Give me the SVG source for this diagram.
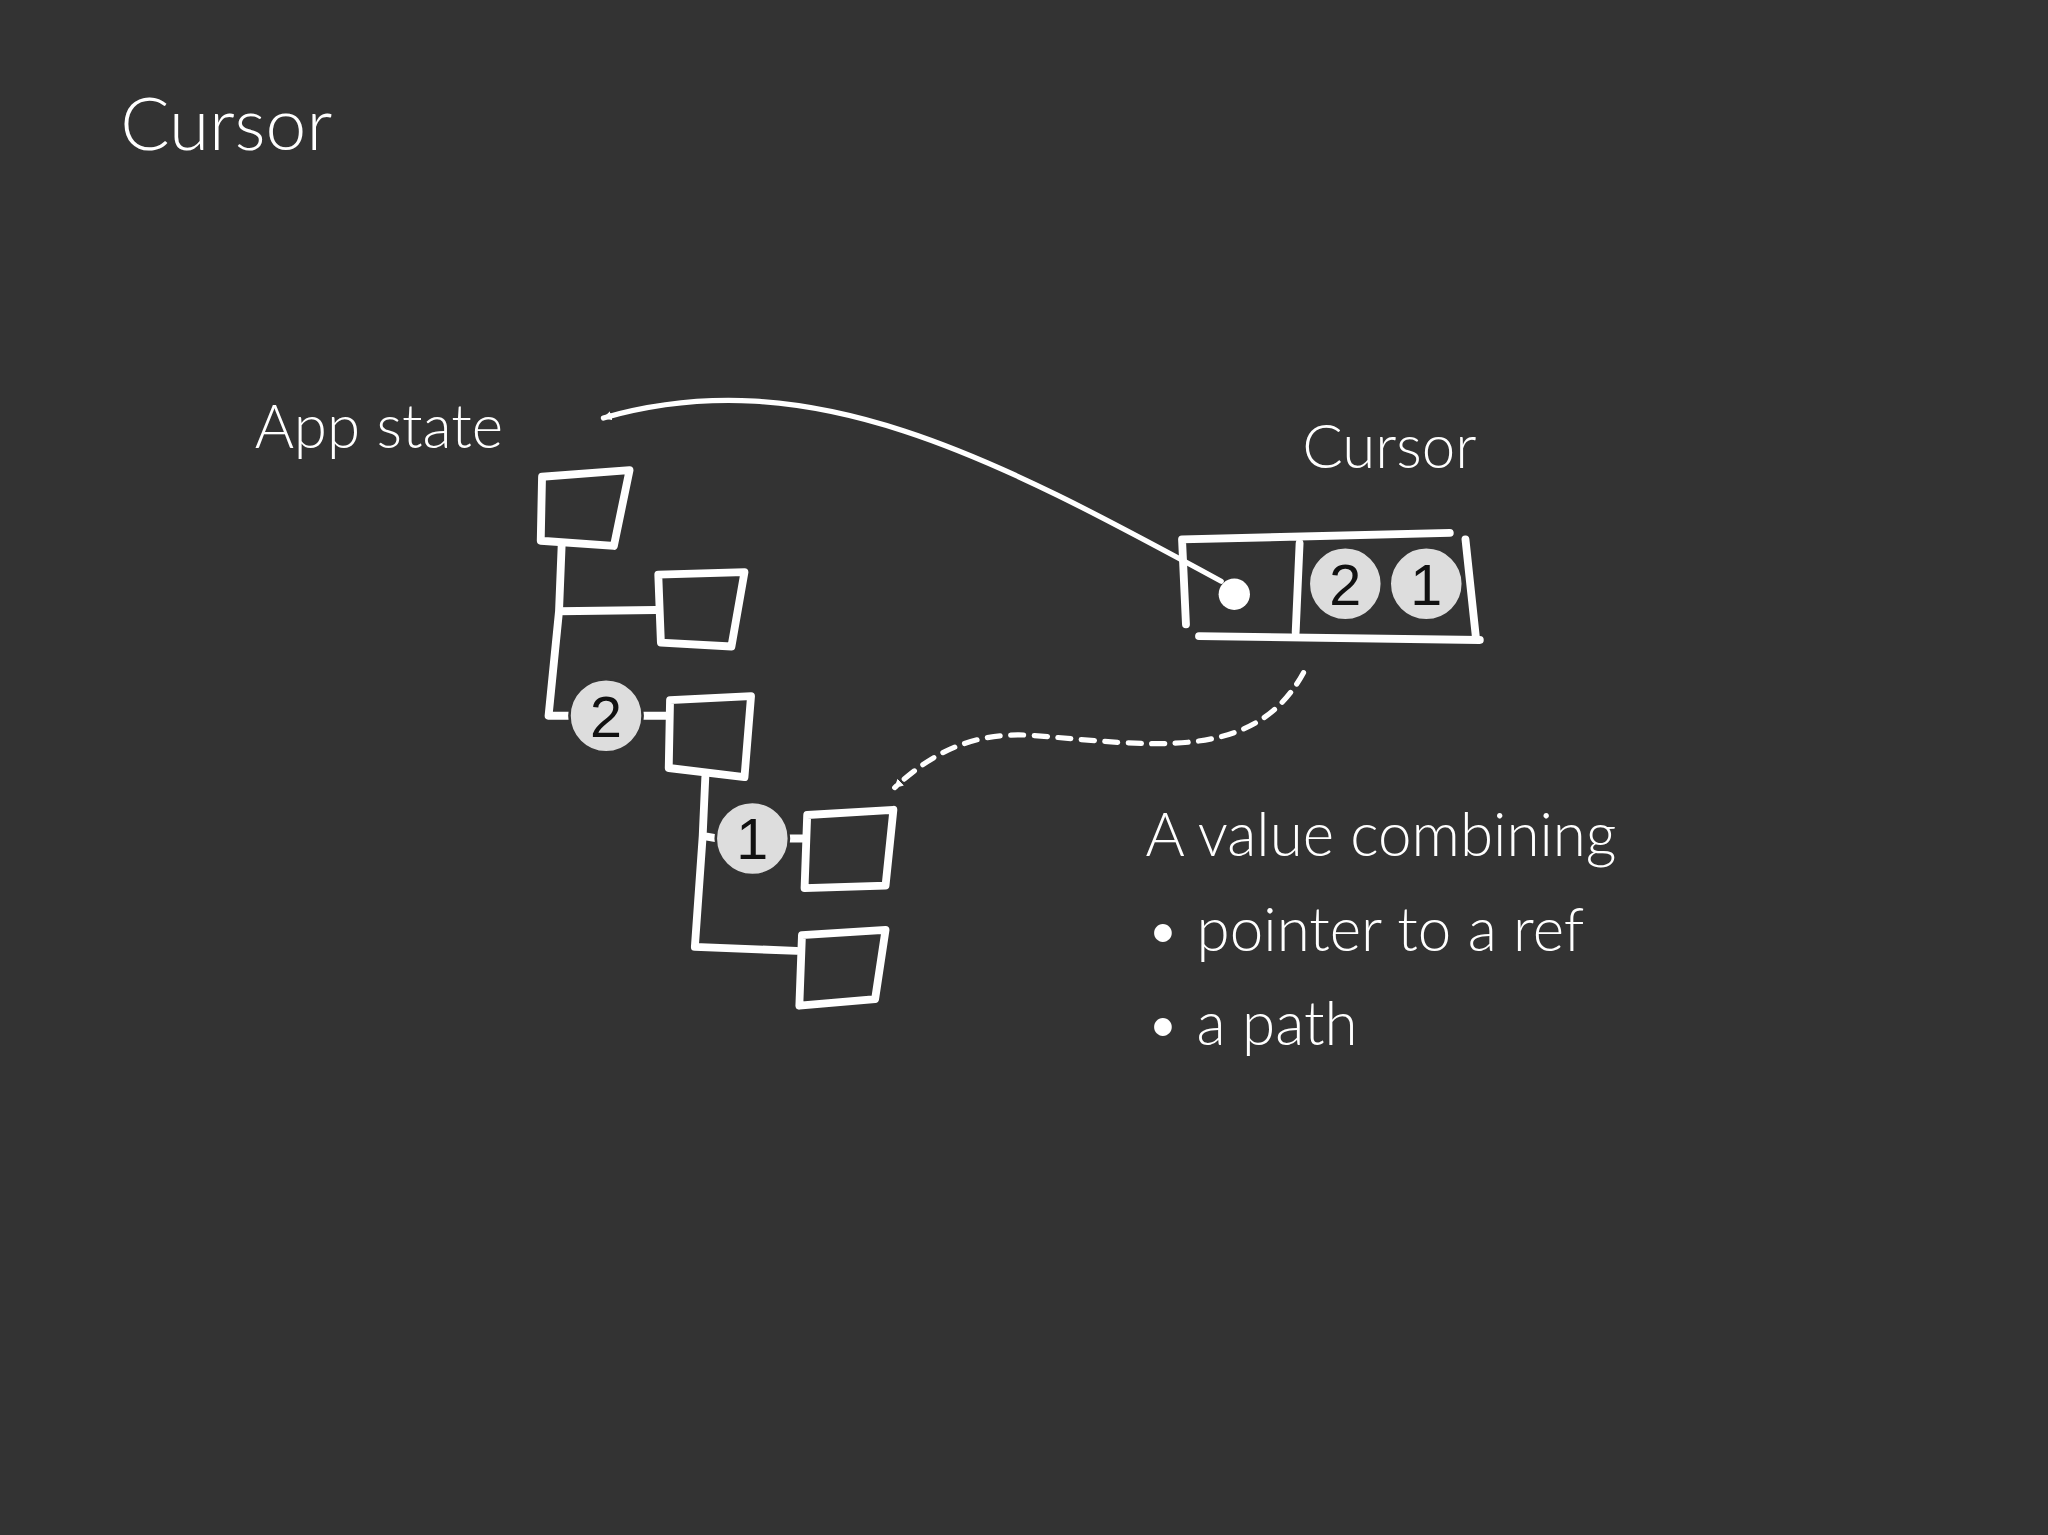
<svg xmlns="http://www.w3.org/2000/svg" width="2048" height="1535" viewBox="0 0 2048 1535">
<style>
.t{fill:#fff;font-family:Lato,"Open Sans",sans-serif;font-weight:300}
.s{fill:none;stroke:#fff;stroke-width:6;stroke-linecap:round;stroke-linejoin:round}
.c{fill:#ddd;stroke:#333;stroke-width:2}
.n{fill:#111;font-family:"Liberation Sans",Arial,sans-serif;font-size:44px;text-anchor:middle}
</style>
<defs>
<marker id="ah" viewBox="0 0 10 10" refX="9" refY="5" markerWidth="7" markerHeight="7" markerUnits="userSpaceOnUse" orient="auto"><path d="M0,0L10,5L0,10z" fill="#fff"/></marker>
</defs>
<rect width="2048" height="1535" fill="#333"/>
<g transform="scale(1.30612)">
<text class="t" x="92" y="115" font-size="56">Cursor</text>
<g id="appstate-label"><text class="t" x="195" y="343" font-size="46">App state</text></g>
<g id="cursor-label"><text class="t" x="997" y="358" font-size="46">Cursor</text></g>
<g id="desc">
<text class="t" x="877" y="655" font-size="46">A value combining</text>
<text class="t" x="877" y="728" font-size="46">• pointer to a ref</text>
<text class="t" x="877" y="800" font-size="46">• a path</text>
</g>
<g id="tree">
<path class="s" d="M430,418 L428,468 L502,467 M428,468 L420,548 L440,548 M492,548 L512,548 M540,595 L538,640 L550,642 M604,642 L616,642 M538,640 L532,725 L610,728"/>
<path class="s" d="M415,365 L482,360 L470,418 L414,414Z"/>
<path class="s" d="M504,440 L570,438 L560,495 L506,492Z"/>
<path class="s" d="M513,536 L575,533 L570,595 L512,588Z"/>
<path class="s" d="M618,624 L684,620 L678,678 L616,680Z"/>
<path class="s" d="M614,716 L678,712 L670,765 L612,770Z"/>
<circle class="c" cx="464" cy="548" r="28"/><text class="n" x="464" y="564">2</text>
<circle class="c" cx="576" cy="642" r="28"/><text class="n" x="576" y="658">1</text>
</g>
<g id="cursor">
<path class="s" d="M905,413 L1110,408 M905,413 L908,478 M918,487 L1133,490 M1122,413 L1130,488 M995,416 L992,484"/>
<circle cx="945" cy="455" r="12" fill="#fff"/>
<circle class="c" cx="1030" cy="447" r="28"/><text class="n" x="1030" y="463">2</text>
<circle class="c" cx="1092" cy="447" r="28"/><text class="n" x="1092" y="463">1</text>
</g>
<g id="connectors">
<path class="s" d="M935,445 C760,350 620,275 462,320" marker-end="url(#ah)" style="stroke-width:4"/>
<path class="s" d="M998,515 C960,585 880,570 790,563 C740,560 710,580 685,603" stroke-dasharray="10,8" marker-end="url(#ah)" style="stroke-width:4"/>
</g>
</g>
</svg>
